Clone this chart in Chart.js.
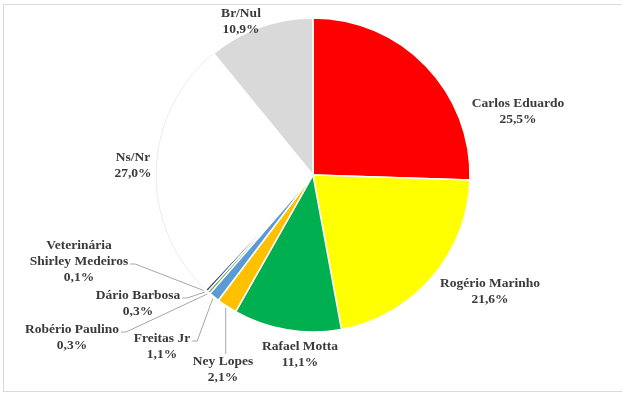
<!DOCTYPE html>
<html>
<head>
<meta charset="utf-8">
<script src="https://cdn.jsdelivr.net/npm/chart.js@4.4.1/dist/chart.umd.min.js"></script>
<style>
    html, body { margin: 0; padding: 0; background: #fff; }
    #frame {
        position: absolute; left: 3px; top: 4px;
        width: 640px; height: 386px;
        border: 1px solid #d9d9d9;
    }
    #wrap { position: absolute; left: 0; top: 0; width: 622px; height: 393px; }
</style>
</head>
<body>
<div id="frame"></div>
<div id="wrap"><canvas id="pie-chart" width="622" height="393"></canvas></div>
<script>
// Data (percent of voters)
const categories = [
    'Carlos Eduardo',
    'Rogério Marinho',
    'Rafael Motta',
    'Ney Lopes',
    'Freitas Jr',
    'Robério Paulino',
    'Dário Barbosa',
    ['Veterinária', 'Shirley Medeiros'],
    'Ns/Nr',
    'Br/Nul'
];
const values = [25.5, 21.6, 11.1, 2.1, 1.1, 0.3, 0.3, 0.1, 27.0, 10.9];

const sliceColors = [
    '#ff0000', '#ffff00', '#00b050', '#ffc000', '#5b9bd5',
    '#70ad47', '#264478', '#7f7f7f', '#ffffff', '#d9d9d9'
];
// the white Ns/Nr slice only gets a faint outline along its rim
const OUTLINED = 8;

// label block centre, relative to the pie centre; leader = how the line is attached
const labelPlace = [
    { dx: 205, dy: -63 },
    { dx: 177, dy: 117 },
    { dx: -13, dy: 180 },
    { dx: -90, dy: 195, leader: 'top' },
    { dx: -151, dy: 172, leader: 'side', line: 0 },
    { dx: -241, dy: 163, leader: 'side', line: 0 },
    { dx: -175, dy: 129, leader: 'side', line: 0 },
    { dx: -234, dy: 87, leader: 'side', line: 1 },
    { dx: -180, dy: -9 },
    { dx: -72, dy: -153 }
];

const LINE_H = 16;
const fmtPct = v => v.toFixed(1).replace('.', ',') + '%';

const rimOutline = {
    id: 'rimOutline',
    afterDatasetsDraw(chart) {
        const arc = chart.getDatasetMeta(0).data[OUTLINED];
        const ctx = chart.ctx;
        ctx.save();
        ctx.strokeStyle = '#ececec';
        ctx.lineWidth = 1;
        ctx.beginPath();
        ctx.arc(arc.x, arc.y, arc.outerRadius, arc.startAngle + 0.01, arc.endAngle - 0.01);
        ctx.stroke();
        ctx.restore();
    }
};

const outsideLabels = {
    id: 'outsideLabels',
    afterDatasetsDraw(chart) {
        const ctx = chart.ctx;
        const meta = chart.getDatasetMeta(0);
        ctx.save();
        ctx.font = 'bold 13.5px "Liberation Serif", "Times New Roman", serif';
        ctx.textAlign = 'center';
        ctx.textBaseline = 'middle';
        meta.data.forEach((arc, i) => {
            const p = labelPlace[i];
            const lines = [].concat(categories[i], fmtPct(values[i]));
            const cx = arc.x + p.dx;
            const cy = arc.y + p.dy;
            const top = cy - (lines.length - 1) * LINE_H / 2;

            if (p.leader) {
                const mid = (arc.startAngle + arc.endAngle) / 2;
                const r = arc.outerRadius + 2;
                const px = arc.x + Math.cos(mid) * r;
                const py = arc.y + Math.sin(mid) * r;
                ctx.strokeStyle = '#a6a6a6';
                ctx.lineWidth = 1;
                ctx.beginPath();
                if (p.leader === 'top') {
                    ctx.moveTo(px, py);
                    ctx.lineTo(px, top - 8);
                } else {
                    const w = ctx.measureText(lines[p.line]).width;
                    const ax = cx + w / 2 + 2;
                    const ay = top + p.line * LINE_H + 2;
                    ctx.moveTo(ax, ay);
                    ctx.lineTo(ax + 5, ay);
                    ctx.lineTo(px, py);
                }
                ctx.stroke();
            }

            ctx.fillStyle = '#3a3a3a';
            lines.forEach((t, k) => ctx.fillText(t, cx, top + k * LINE_H));
        });
        ctx.restore();
    }
};

new Chart(document.getElementById('pie-chart').getContext('2d'), {
    type: 'pie',
    data: {
        labels: categories,
        datasets: [{
            data: values,
            backgroundColor: sliceColors,
            borderColor: '#ffffff',
            borderWidth: 1.5
        }]
    },
    options: {
        responsive: false,
        animation: false,
        radius: 157,
        layout: { padding: { left: 140, right: 136, top: 5, bottom: 48 } },
        plugins: {
            legend: { display: false },
            tooltip: { enabled: false }
        }
    },
    plugins: [rimOutline, outsideLabels]
});
</script>
</body>
</html>
